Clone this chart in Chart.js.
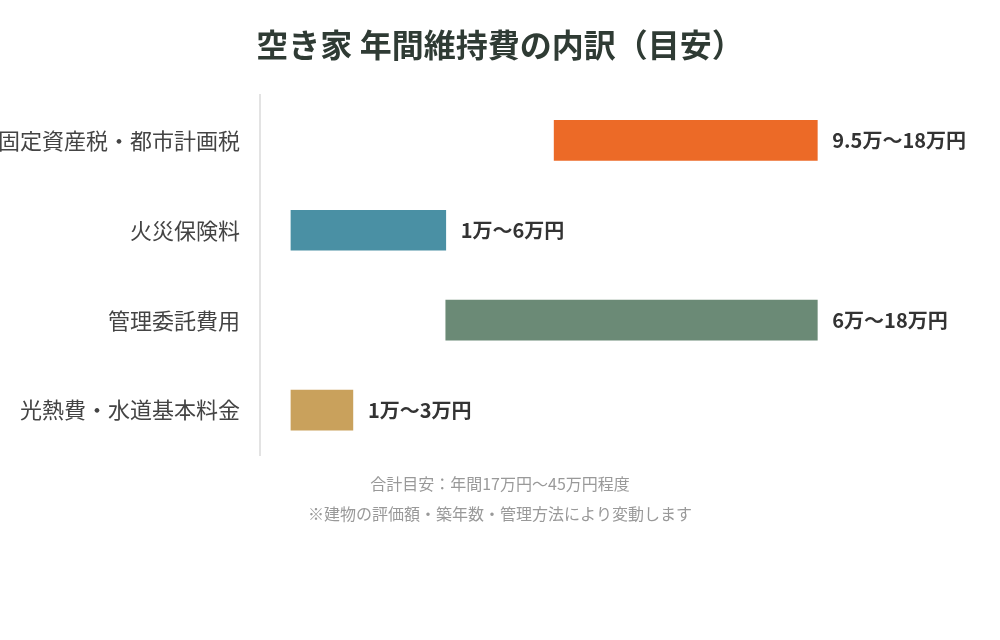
<!DOCTYPE html>
<html lang="ja">
<head>
<meta charset="utf-8">
<title>空き家 年間維持費の内訳（目安）</title>
<script src="https://cdn.jsdelivr.net/npm/chart.js@4"></script>
<style>
  html, body { margin: 0; padding: 0; background: #fff; }
  #wrap { width: 1000px; height: 640px; position: relative; }
</style>
</head>
<body>
<div id="wrap"><canvas id="costChart"></canvas></div>
<script>
// categories and ranges (万円)
const categories = ['固定資産税・都市計画税', '火災保険料', '管理委託費用', '光熱費・水道基本料金'];
const lowValues = [9.5, 1, 6, 1];
const highValues = [18, 6, 18, 3];
const barColors = ['#EC6A27', '#4A90A4', '#6B8A76', '#C9A15C'];
const footnotes = ['合計目安：年間17万円〜45万円程度', '※建物の評価額・築年数・管理方法により変動します'];

const FONT = '"Noto Sans CJK JP", "Noto Sans", sans-serif';

// range text drawn right of each bar
const rangeLabels = {
  id: 'rangeLabels',
  afterDatasetsDraw(chart) {
    const ctx = chart.ctx;
    const meta = chart.getDatasetMeta(0);
    ctx.save();
    ctx.font = 'bold 20px ' + FONT;
    ctx.fillStyle = '#333';
    ctx.textAlign = 'left';
    ctx.textBaseline = 'middle';
    meta.data.forEach((bar, i) => {
      const x = chart.scales.x.getPixelForValue(highValues[i]);
      ctx.fillText(`${lowValues[i]}万〜${highValues[i]}万円`, x + 15, bar.y);
    });
    ctx.restore();
  }
};

new Chart(document.getElementById('costChart'), {
  type: 'bar',
  data: {
    labels: categories,
    datasets: [{
      data: lowValues.map((v, i) => [v, highValues[i]]),
      backgroundColor: barColors,
      borderWidth: 0,
      borderSkipped: false,
      barThickness: 40
    }]
  },
  options: {
    indexAxis: 'y',
    responsive: true,
    maintainAspectRatio: false,
    animation: false,
    layout: { padding: 0 },
    plugins: {
      legend: { display: false },
      tooltip: { enabled: false },
      title: {
        display: true,
        text: '空き家 年間維持費の内訳（目安）',
        color: '#2f3b34',
        font: { family: FONT, size: 32, weight: 'bold', lineHeight: 1.2 },
        padding: { top: 26, bottom: 31 }
      },
      subtitle: {
        display: true,
        position: 'bottom',
        text: footnotes,
        color: '#999',
        font: { family: FONT, size: 16, lineHeight: 1.875 },
        padding: { top: 14, bottom: 111 }
      }
    },
    scales: {
      x: {
        display: false,
        min: 0,
        max: 23.9
      },
      y: {
        grid: { display: false, drawTicks: false },
        border: { display: true, color: '#e3e3e3', width: 2 },
        ticks: {
          color: '#444',
          padding: 20,
          font: { family: FONT, size: 22 }
        },
        afterFit(scale) { scale.width = 260; }
      }
    }
  },
  plugins: [rangeLabels]
});
</script>
</body>
</html>
